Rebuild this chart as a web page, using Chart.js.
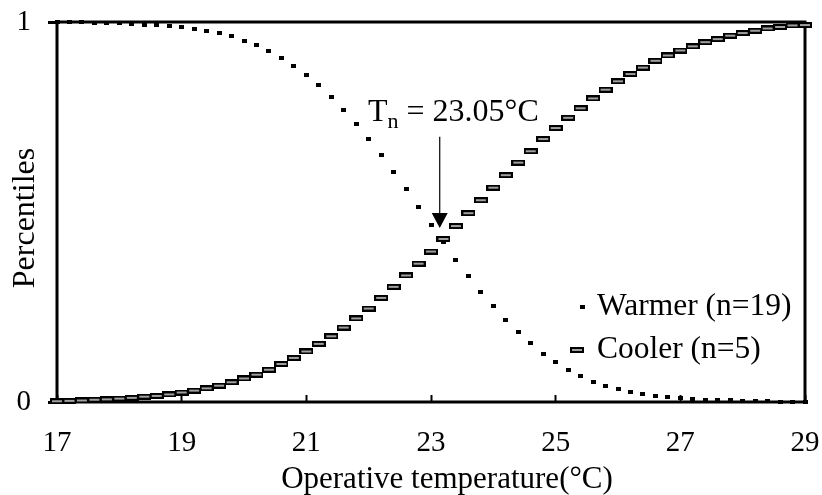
<!DOCTYPE html>
<html>
<head>
<meta charset="utf-8">
<script src="https://cdn.jsdelivr.net/npm/chart.js@4.4.1/dist/chart.umd.min.js"></script>
<style>
    html, body { margin: 0; padding: 0; background: #fff; }
    #wrap { width: 822px; height: 495px; }
</style>
</head>
<body>
<div id="wrap"><canvas id="percentile-chart"></canvas></div>
<script>
const temperatures = [
    17.0, 17.2, 17.4, 17.6, 17.8, 18.0, 18.2, 18.4, 18.6, 18.8,
    19.0, 19.2, 19.4, 19.6, 19.8, 20.0, 20.2, 20.4, 20.6, 20.8,
    21.0, 21.2, 21.4, 21.6, 21.8, 22.0, 22.2, 22.4, 22.6, 22.8,
    23.0, 23.2, 23.4, 23.6, 23.8, 24.0, 24.2, 24.4, 24.6, 24.8,
    25.0, 25.2, 25.4, 25.6, 25.8, 26.0, 26.2, 26.4, 26.6, 26.8,
    27.0, 27.2, 27.4, 27.6, 27.8, 28.0, 28.2, 28.4, 28.6, 28.8,
    29.0
];

const warmer = [
    1.000, 0.999, 0.999, 0.998, 0.998, 0.997, 0.995, 0.993, 0.991, 0.989,
    0.986, 0.981, 0.976, 0.970, 0.962, 0.951, 0.939, 0.924, 0.905, 0.884,
    0.860, 0.833, 0.803, 0.768, 0.731, 0.691, 0.649, 0.605, 0.560, 0.513,
    0.466, 0.421, 0.375, 0.331, 0.290, 0.252, 0.217, 0.183, 0.154, 0.127,
    0.106, 0.085, 0.068, 0.053, 0.041, 0.033, 0.026, 0.020, 0.016, 0.013,
    0.010, 0.008, 0.006, 0.005, 0.004, 0.003, 0.002, 0.002, 0.001, 0.001,
    0.001
];

const cooler = [
    0.002, 0.003, 0.004, 0.006, 0.007, 0.009, 0.011, 0.014, 0.016, 0.020,
    0.025, 0.030, 0.036, 0.043, 0.052, 0.062, 0.072, 0.085, 0.100, 0.116,
    0.133, 0.153, 0.173, 0.196, 0.220, 0.246, 0.274, 0.303, 0.333, 0.364,
    0.396, 0.429, 0.463, 0.497, 0.531, 0.564, 0.597, 0.630, 0.660, 0.692,
    0.721, 0.748, 0.773, 0.799, 0.822, 0.844, 0.863, 0.880, 0.898, 0.912,
    0.925, 0.936, 0.947, 0.955, 0.964, 0.971, 0.977, 0.983, 0.987, 0.991,
    0.992
];

const seriesLabels = ['Warmer (n=19)', 'Cooler (n=5)'];
const xTicks = [17, 19, 21, 23, 25, 27, 29];
const yTicks = [0, 1];
const neutralLabel = '23.05°C';

const serif = '"Liberation Serif", "Times New Roman", serif';

// small marker images: black dot and outlined grey dash
const makeDot = () => {
    const c = document.createElement('canvas');
    c.width = 5; c.height = 4;
    const g = c.getContext('2d');
    g.fillStyle = '#000';
    g.fillRect(0, 0, 5, 4);
    return c;
};

const makeDash = () => {
    const c = document.createElement('canvas');
    c.width = 14; c.height = 6;
    const g = c.getContext('2d');
    g.fillStyle = '#000';
    g.fillRect(0, 0, 14, 6);
    g.fillStyle = '#a0a0a0';
    g.fillRect(2, 2, 10, 2);
    return c;
};

const dot = makeDot();
const dash = makeDash();

const framePlugin = {
    id: 'frame',
    beforeDatasetsDraw: (chart) => {
        const { ctx, chartArea: a } = chart;
        ctx.save();
        ctx.strokeStyle = '#000';
        ctx.lineWidth = 3;
        ctx.strokeRect(a.left, a.top, a.right - a.left, a.bottom - a.top);
        ctx.restore();
    }
};

const textPlugin = {
    id: 'texts',
    afterDraw: (chart) => {
        const { ctx, chartArea: a, scales } = chart;
        ctx.save();
        ctx.fillStyle = '#000';
        ctx.textBaseline = 'alphabetic';

        // axis titles
        ctx.font = '31px ' + serif;
        ctx.textAlign = 'center';
        ctx.fillText('Operative temperature(°C)', (a.left + a.right) / 2 + 16, a.bottom + 86);
        ctx.save();
        ctx.translate(34, (a.top + a.bottom) / 2 + 6);
        ctx.rotate(-Math.PI / 2);
        ctx.font = '32px ' + serif;
        ctx.fillText('Percentiles', 0, 0);
        ctx.restore();

        // legend
        ctx.textAlign = 'left';
        ctx.textBaseline = 'middle';
        ctx.font = '31.5px ' + serif;
        const lx = a.right - 208;
        const rows = [a.bottom - 95, a.bottom - 52];
        const marks = [dot, dash];
        const gaps = [15, 20];
        chart.data.datasets.forEach((ds, i) => {
            const m = marks[i];
            ctx.drawImage(m, lx - gaps[i] - m.width / 2, rows[i] - m.height / 2);
            ctx.fillText(ds.label, lx, rows[i]);
        });

        // T_n annotation with arrow
        const ax = scales.x.getPixelForValue(23.14);
        const yTop = scales.y.getPixelForValue(0.698);
        const yTip = scales.y.getPixelForValue(0.458);
        ctx.textBaseline = 'alphabetic';
        let tx = 368;
        const base = 121;
        ctx.font = '32px ' + serif;
        ctx.fillText('T', tx, base);
        tx += ctx.measureText('T').width;
        ctx.font = '22px ' + serif;
        ctx.fillText('n', tx, base + 7);
        tx += ctx.measureText('n').width;
        ctx.font = '32px ' + serif;
        ctx.fillText(' = ' + neutralLabel, tx, base);

        ctx.strokeStyle = '#000';
        ctx.lineWidth = 1.2;
        ctx.beginPath();
        ctx.moveTo(ax, yTop);
        ctx.lineTo(ax, yTip - 14);
        ctx.stroke();
        ctx.beginPath();
        ctx.moveTo(ax - 8, yTip - 15);
        ctx.lineTo(ax + 8, yTip - 15);
        ctx.lineTo(ax, yTip);
        ctx.closePath();
        ctx.fill();
        ctx.restore();
    }
};

const renderChart = () => {
    const ctx = document.getElementById('percentile-chart');

    new Chart(ctx, {
        type: 'scatter',
        data: {
            datasets: [{
                label: seriesLabels[0],
                data: temperatures.map((t, i) => ({ x: t, y: warmer[i] })),
                pointStyle: dot,
                clip: false
            },
            {
                label: seriesLabels[1],
                data: temperatures.map((t, i) => ({ x: t, y: cooler[i] })),
                pointStyle: dash,
                clip: false
            }]
        },
        options: {
            responsive: true,
            maintainAspectRatio: false,
            animation: false,
            events: [],
            layout: {
                padding: { left: 0, top: 22, right: 17, bottom: 0 }
            },
            plugins: {
                legend: { display: false },
                tooltip: { enabled: false }
            },
            scales: {
                x: {
                    type: 'linear',
                    min: xTicks[0],
                    max: xTicks[xTicks.length - 1],
                    afterBuildTicks: (s) => { s.ticks = xTicks.map(v => ({ value: v })); },
                    afterFit: (s) => { s.height = 93; s.paddingLeft = 0; s.paddingRight = 0; },
                    border: { display: false },
                    grid: {
                        drawOnChartArea: false,
                        tickLength: -7,
                        tickColor: '#000',
                        tickWidth: 2
                    },
                    ticks: {
                        padding: 31,
                        color: '#000',
                        maxRotation: 0,
                        autoSkip: false,
                        font: { family: serif, size: 29 }
                    }
                },
                y: {
                    type: 'linear',
                    min: yTicks[0],
                    max: yTicks[1],
                    afterBuildTicks: (s) => { s.ticks = yTicks.map(v => ({ value: v })); },
                    afterFit: (s) => { s.width = 57; s.paddingTop = 0; s.paddingBottom = 0; },
                    border: { display: false },
                    grid: {
                        drawOnChartArea: false,
                        tickLength: 9,
                        tickColor: '#000',
                        tickWidth: 3
                    },
                    ticks: {
                        padding: 17,
                        color: '#000',
                        font: { family: serif, size: 29 }
                    }
                }
            }
        },
        plugins: [framePlugin, textPlugin]
    });
};

renderChart();
</script>
</body>
</html>
